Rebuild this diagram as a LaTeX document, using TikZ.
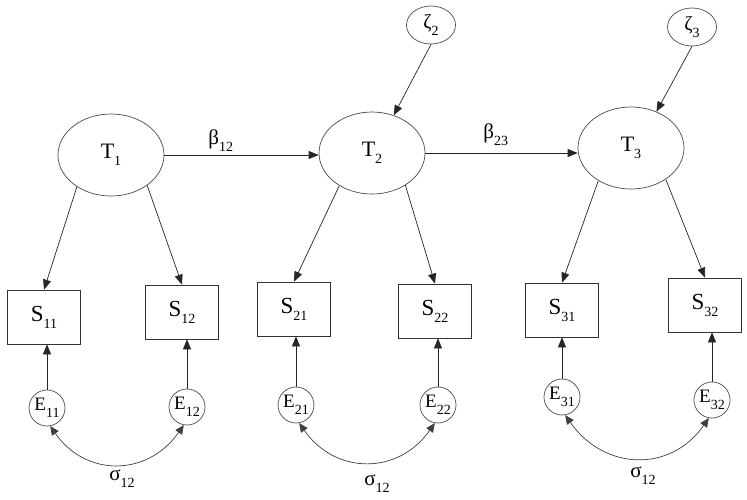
\documentclass[tikz,border=0pt]{standalone}
\usepackage{fontspec}
\setmainfont{Liberation Serif}
\usetikzlibrary{arrows.meta,shapes.geometric}
\newcommand{\lbl}[2]{#1\raisebox{-7pt}{\fontsize{14}{14}\selectfont #2}}

\begin{document}
\begin{tikzpicture}[
    x=1pt,y=-1pt,
    line width=0.7pt,
    trait/.style={ellipse,draw=black!70,minimum width=106pt,minimum height=82pt,inner sep=0pt,font=\fontsize{22}{26}\selectfont},
    dist/.style={ellipse,draw=black!70,minimum width=49pt,minimum height=38pt,inner sep=0pt,font=\fontsize{20}{24}\selectfont},
    obs/.style={rectangle,draw=black!80,minimum width=73pt,minimum height=54pt,inner sep=0pt,font=\fontsize{23}{27}\selectfont},
    err/.style={circle,draw=black!70,minimum size=36pt,inner sep=0pt,font=\fontsize{19}{22}\selectfont},
    coef/.style={anchor=base west,inner sep=0pt,font=\fontsize{21}{25}\selectfont},
    arr/.style={-{Triangle[length=10pt,width=8pt]},black!85},
    cov/.style={{Triangle[length=9pt,width=8pt]}-{Triangle[length=9pt,width=8pt]},black!75,out=-55,in=-125,looseness=1.2}
    ]
    \fill[white] (0,0) rectangle (747,499);
    \useasboundingbox (0,0) rectangle (747,499);

    \node[trait] (T1) at (111,155) {\lbl{T}{1}};
    \node[trait] (T2) at (372,153) {\lbl{T}{2}};
    \node[trait] (T3) at (631,148) {\lbl{T}{3}};
    \node[dist] (Z2) at (431,25) {\lbl{ζ}{2}};
    \node[dist] (Z3) at (692,27) {\lbl{ζ}{3}};

    \node[obs] (S11) at (44,317) {\lbl{S}{11}};
    \node[obs] (S12) at (182,312) {\lbl{S}{12}};
    \node[obs] (S21) at (294,309) {\lbl{S}{21}};
    \node[obs] (S22) at (435,311) {\lbl{S}{22}};
    \node[obs] (S31) at (562,310) {\lbl{S}{31}};
    \node[obs] (S32) at (705,305) {\lbl{S}{32}};

    \node[err] (E11) at (47,408) {\lbl{E}{11}};
    \node[err] (E12) at (187,407) {\lbl{E}{12}};
    \node[err] (E21) at (296,405) {\lbl{E}{21}};
    \node[err] (E22) at (438,405) {\lbl{E}{22}};
    \node[err] (E31) at (562,397) {\lbl{E}{31}};
    \node[err] (E32) at (712,400) {\lbl{E}{32}};

    \node[coef] (b12) at (208,144) {\lbl{β}{12}};
    \node[coef] (b23) at (483,138) {\lbl{β}{23}};
    \node[coef] (s1) at (109,480) {\lbl{σ}{12}};
    \node[coef] (s2) at (364,485) {\lbl{σ}{12}};
    \node[coef] (s3) at (630,477) {\lbl{σ}{12}};

    \draw[arr] (T1.east) -- (T1.east -| T2.west);
    \draw[arr] (T2.east) -- (T2.east -| T3.west);
    \draw[arr] (Z2.south) -- (T2.60);
    \draw[arr] (Z3.south) -- (T3.55);

    \draw[arr] (T1.223) -- (S11.north);
    \draw[arr] (T1.320) -- (S12.north);
    \draw[arr] (T2.225) -- (S21.north);
    \draw[arr] (T2.316) -- (S22.north);
    \draw[arr] (T3.225) -- (S31.north);
    \draw[arr] (T3.318) -- (S32.north);

    \draw[arr] (E11) -- (E11 |- S11.south);
    \draw[arr] (E12) -- (E12 |- S12.south);
    \draw[arr] (E21) -- (E21 |- S21.south);
    \draw[arr] (E22) -- (E22 |- S22.south);
    \draw[arr] (E31) -- (E31 |- S31.south);
    \draw[arr] (E32) -- (E32 |- S32.south);

    \draw[cov] (E11.-80) to (E12.-100);
    \draw[cov] (E21.-80) to (E22.-100);
    \draw[cov] (E31.-80) to (E32.-100);
  \end{tikzpicture}
\end{document}
